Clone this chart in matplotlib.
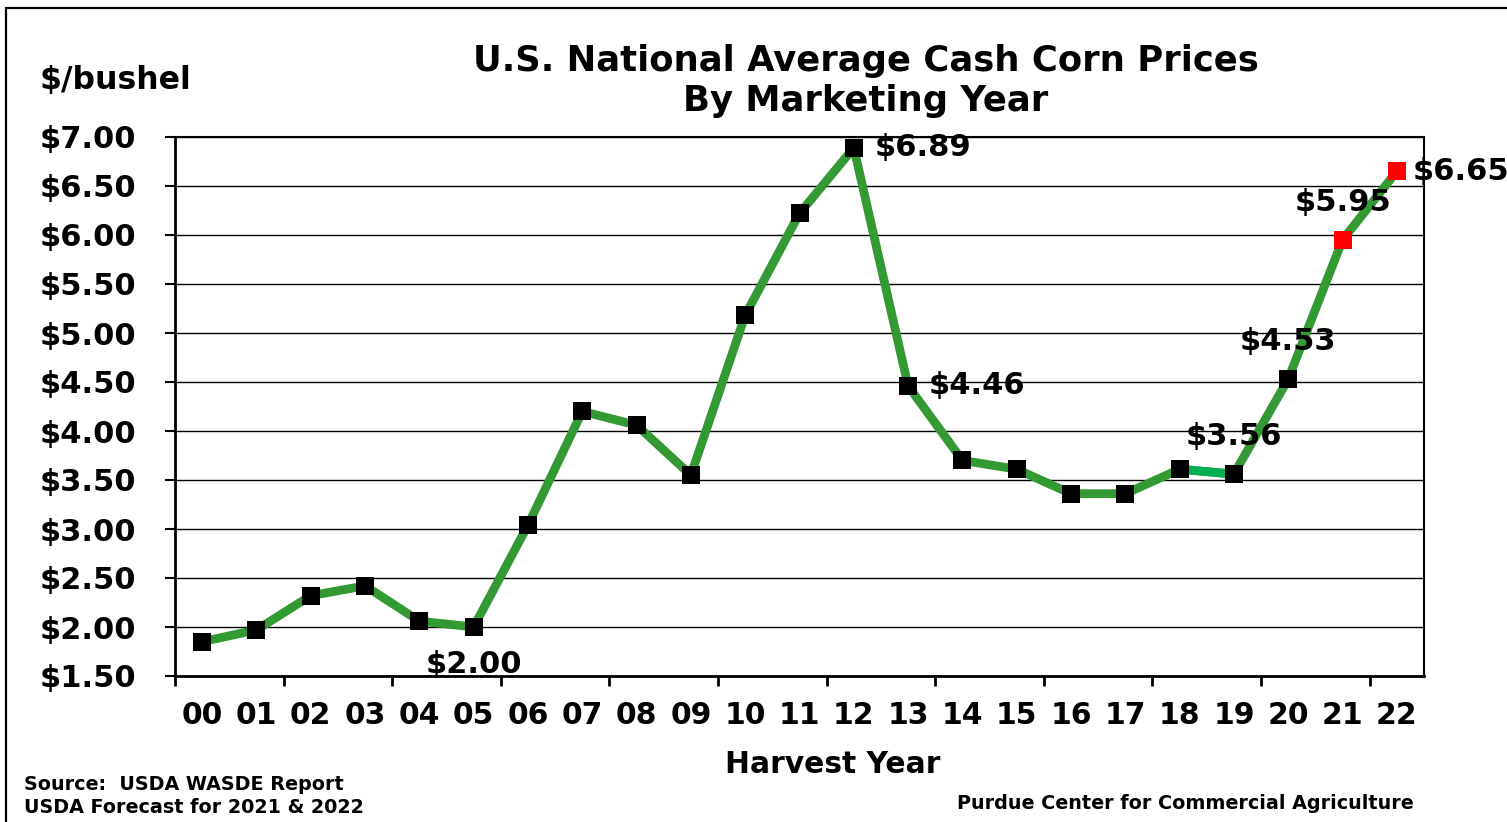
import matplotlib
matplotlib.use("Agg")
import matplotlib.pyplot as plt
from matplotlib.patches import Rectangle

years = ["00", "01", "02", "03", "04", "05", "06", "07", "08", "09", "10",
         "11", "12", "13", "14", "15", "16", "17", "18", "19", "20", "21", "22"]
prices = [1.85, 1.97, 2.32, 2.42, 2.06, 2.00, 3.04, 4.20, 4.06, 3.55, 5.18,
          6.22, 6.89, 4.46, 3.70, 3.61, 3.36, 3.36, 3.61, 3.56, 4.53, 5.95, 6.65]
forecast = [False] * 21 + [True, True]
y_ticks = [1.5, 2.0, 2.5, 3.0, 3.5, 4.0, 4.5, 5.0, 5.5, 6.0, 6.5, 7.0]
y_tick_labels = ["$%.2f" % v for v in y_ticks]
labelled = {"05": "below", "12": "right", "13": "right", "19": "above",
            "20": "above", "21": "above", "22": "right_near"}

plt.rcParams['font.family'] = ['DejaVu Sans']
plt.rcParams['font.weight'] = 'bold'

fig = plt.figure(figsize=(15.07, 8.22), dpi=100)
fig.patches.append(Rectangle((6 / 1507, -0.1), 1.2, 1.1 - 8 / 822,
                             transform=fig.transFigure, fill=False,
                             edgecolor='black', linewidth=1.6, figure=fig))
ax = fig.add_axes([175 / 1507, 1 - 676 / 822, (1424 - 175) / 1507, (676 - 137) / 822])

x = list(range(len(years)))
line_green = '#339933'
ax.plot(x, prices, color=line_green, linewidth=6.3, zorder=3, solid_capstyle='round')
# 2018-2019 segment lighter green
i18 = years.index("18")
ax.plot(x[i18:i18 + 2], prices[i18:i18 + 2], color='#00B050', linewidth=6.3, zorder=3)
for xi, p, f in zip(x, prices, forecast):
    ax.plot([xi], [p], marker='s', markersize=12.5, color='red' if f else 'black',
            markeredgewidth=0, zorder=4, linestyle='none')

fs_lab = 22
for yr, pos in labelled.items():
    i = years.index(yr)
    p = prices[i]
    txt = "$%.2f" % p
    if pos == "below":
        off, ha = (0, -27), 'center'
    elif pos == "above":
        off, ha = (0, 27), 'center'
    elif pos == "right":
        off, ha = (15, 0), 'left'
    else:
        off, ha = (11, 0), 'left'
    ax.annotate(txt, (i, p), xytext=off, textcoords='offset points',
                ha=ha, va='center', fontsize=fs_lab, fontweight='bold',
                zorder=5, annotation_clip=False)

ax.set_xlim(-0.5, len(years) - 0.5)
ax.set_ylim(y_ticks[0], y_ticks[-1])
ax.set_yticks(y_ticks)
ax.set_yticklabels(y_tick_labels, fontsize=22, fontweight='bold')
ax.yaxis.grid(True, color='black', linewidth=1.0)
ax.set_axisbelow(True)

ax.set_xticks([i - 0.5 for i in range(0, len(years), 2)])
ax.set_xticklabels([])
ax.set_xticks(x, minor=True)
ax.set_xticklabels(years, minor=True, fontsize=21.5, fontweight='bold')
ax.tick_params(axis='x', which='minor', length=0, pad=18)
ax.tick_params(axis='x', which='major', length=7, width=2, direction='out')
ax.tick_params(axis='y', which='major', length=7, width=1.5, direction='out', pad=21)
for s in ax.spines.values():
    s.set_linewidth(1.5)
    s.set_color('black')
ax.spines['left'].set_linewidth(2)
ax.spines['bottom'].set_linewidth(2)

fig.text(833 / 1507, 1 - 764 / 822, "Harvest Year", ha='center', va='center',
         fontsize=21.4, fontweight='bold')
fig.text(866 / 1507, 1 - 81 / 822, "U.S. National Average Cash Corn Prices\nBy Marketing Year",
         ha='center', va='center', fontsize=25.5, fontweight='bold', linespacing=1.2)
fig.text(40 / 1507, 1 - 81 / 822, "$/bushel", ha='left', va='center',
         fontsize=22.7, fontweight='bold')
fig.text(24 / 1507, 1 - 784 / 822, "Source:  USDA WASDE Report", ha='left', va='center',
         fontsize=13.8, fontweight='bold')
fig.text(24 / 1507, 1 - 807 / 822, "USDA Forecast for 2021 & 2022", ha='left', va='center',
         fontsize=13.8, fontweight='bold')
fig.text(1414 / 1507, 1 - 803 / 822, "Purdue Center for Commercial Agriculture",
         ha='right', va='center', fontsize=13.8, fontweight='bold')

fig.savefig("out.png", dpi=100)
